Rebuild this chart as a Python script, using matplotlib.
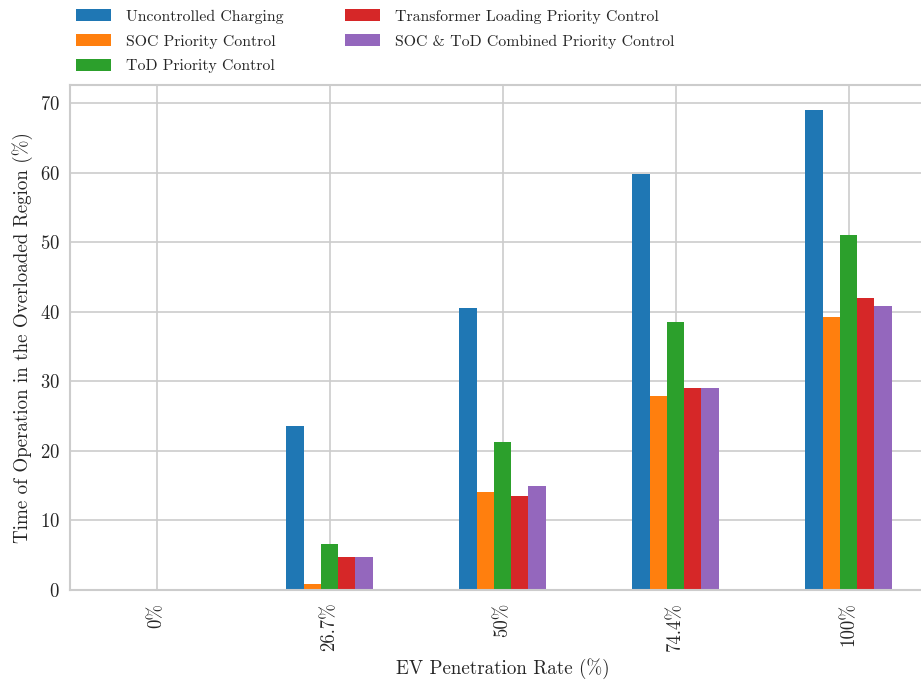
import matplotlib
matplotlib.use("Agg")
import matplotlib.pyplot as plt
import numpy as np

categories = ["0%", "26.7%", "50%", "74.4%", "100%"]
series_names = ["Uncontrolled Charging", "SOC Priority Control", "ToD Priority Control",
                "Transformer Loading Priority Control", "SOC & ToD Combined Priority Control"]
uncontrolled = [0, 23.6, 40.5, 59.8, 69.0]
soc = [0, 0.9, 14.1, 27.9, 39.2]
tod = [0, 6.6, 21.3, 38.5, 51.0]
transformer = [0, 4.7, 13.5, 29.0, 42.0]
soc_tod = [0, 4.7, 14.9, 29.0, 40.8]
colors = ["#1f77b4", "#ff7f0e", "#2ca02c", "#d62728", "#9467bd"]

plt.style.use("seaborn-v0_8-whitegrid")
plt.rcParams["font.family"] = ["cmr10", "DejaVu Serif"]
plt.rcParams["axes.formatter.use_mathtext"] = True
plt.rcParams["axes.unicode_minus"] = False

fig = plt.figure(figsize=(9.21, 6.84), dpi=100)
ax = fig.add_axes([70/921, 1-590/684, 865/921, 505/684])

data = [uncontrolled, soc, tod, transformer, soc_tod]
n = len(data)
width = 0.5 / n
x = np.arange(len(categories))
for i, (vals, name, c) in enumerate(zip(data, series_names, colors)):
    ax.bar(x + (i - (n - 1) / 2) * width, vals, width, color=c, label=name, zorder=2)

ax.set_xlim(-0.5, len(categories) - 0.5)
ax.set_ylim(0, 72.6)
ax.set_xticks(x)
ax.set_xticklabels(categories, rotation=90)
ax.tick_params(axis="x", labelsize=13.5, pad=9)
ax.tick_params(axis="y", labelsize=13.5, pad=7.5)
ax.set_xlabel("EV Penetration Rate (%)", fontsize=13.7, labelpad=5)
ax.set_ylabel("Time of Operation in the Overloaded Region (%)", fontsize=13.7, labelpad=5)
ax.grid(True, color="#cccccc", linewidth=1.2)
ax.set_axisbelow(True)
for s in ax.spines.values():
    s.set_visible(True)
    s.set_color("#cccccc")
    s.set_linewidth(1.5)

fig.legend(loc="upper left", bbox_to_anchor=(70/921, 1 - 3/684), ncol=2, fontsize=11.35,
           frameon=False, handlelength=2.2, handleheight=0.8, handletextpad=0.95,
           columnspacing=3.9, labelspacing=0.65, borderaxespad=0)

fig.savefig("out.png", dpi=100)
